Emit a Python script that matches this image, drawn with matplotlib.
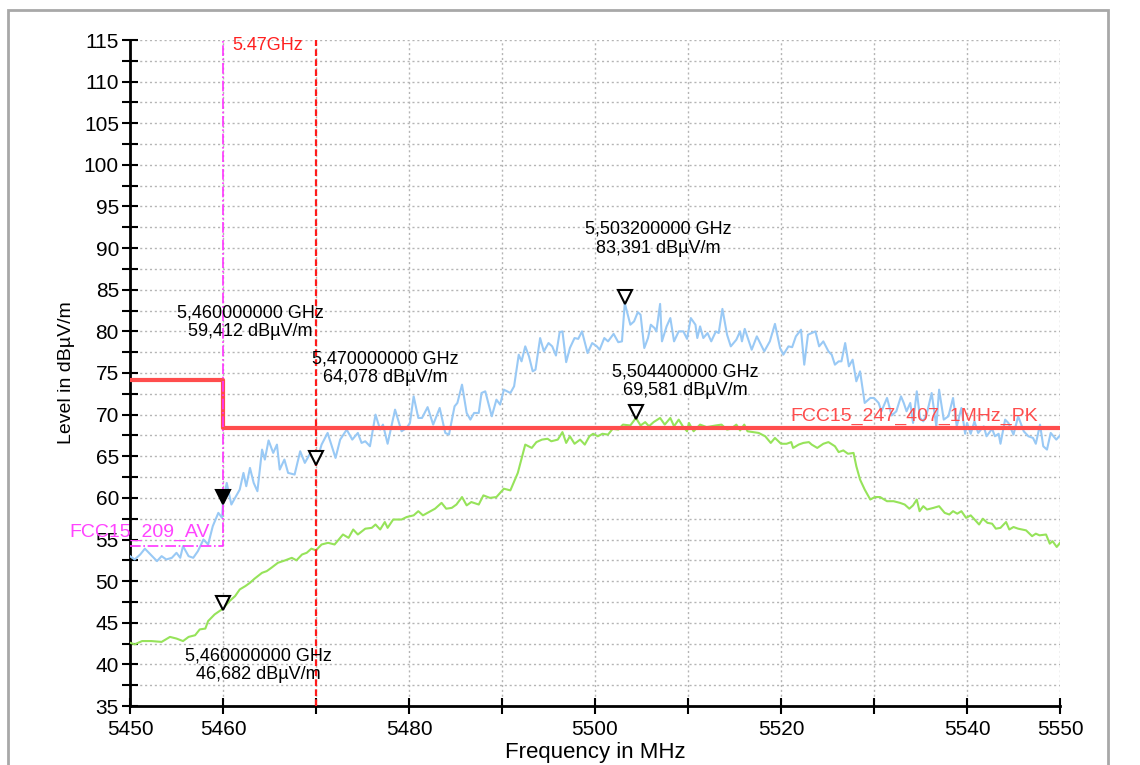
#Recreation of a radiated band-edge scan (peak + average traces with FCC limits)
import numpy as np
import matplotlib
matplotlib.use('Agg')
import matplotlib.pyplot as plt
import matplotlib.transforms as mtransforms
from matplotlib.patches import Rectangle

plt.rcParams['font.family'] = ['Liberation Sans', 'DejaVu Sans']

#Peak trace (light blue)
pk_freq = [5450.0, 5450.5, 5451.1, 5451.6, 5452.2, 5452.9, 5453.4, 5453.9, 5454.5, 5455.0,
           5455.4, 5455.7, 5456.3, 5456.8, 5457.3, 5457.9, 5458.4, 5458.9, 5459.5, 5459.9,
           5460.0, 5460.4, 5460.9, 5461.5, 5461.8, 5462.2, 5462.5, 5462.9, 5463.3, 5463.7,
           5464.2, 5464.5, 5464.9, 5465.4, 5465.8, 5466.1, 5466.6, 5467.0, 5467.7, 5468.3,
           5468.8, 5469.4, 5470.0, 5470.6, 5471.25, 5471.7, 5472.1, 5472.6, 5473.3, 5473.9,
           5474.5, 5474.9, 5475.3, 5475.8, 5476.4, 5476.9, 5477.2, 5477.7, 5478.5, 5479.2,
           5479.75, 5480.1, 5480.5, 5481.0, 5481.4, 5482.0, 5482.6, 5483.3, 5483.9, 5484.3,
           5484.9, 5485.2, 5485.7, 5486.2, 5486.6, 5487.0, 5487.5, 5487.8, 5488.2, 5488.9,
           5489.4, 5489.8, 5490.2, 5490.9, 5491.3, 5491.8, 5492.1, 5492.5, 5492.9, 5493.3,
           5493.6, 5494.1, 5494.5, 5495.0, 5495.4, 5495.8, 5496.2, 5496.5, 5496.9, 5497.3,
           5497.8, 5498.2, 5498.6, 5499.2, 5499.7, 5500.2, 5500.5, 5501.0, 5501.4, 5502.0,
           5502.5, 5502.9, 5503.2, 5503.8, 5504.2, 5504.6, 5504.9, 5505.3, 5505.7, 5506.0,
           5506.4, 5506.6, 5507.0, 5507.2, 5507.7, 5508.1, 5508.5, 5509.0, 5509.5, 5509.9,
           5510.3, 5510.8, 5511.0, 5511.3, 5511.65, 5512.1, 5512.5, 5513.0, 5513.3, 5513.7,
           5514.2, 5514.6, 5515.2, 5515.6, 5515.8, 5516.1, 5516.85, 5517.4, 5518.2, 5518.8,
           5519.35, 5519.9, 5520.25, 5520.8, 5521.2, 5521.6, 5522.15, 5522.5, 5522.9, 5523.3,
           5523.7, 5524.1, 5524.55, 5525.1, 5525.45, 5525.8, 5526.2, 5526.5, 5526.9, 5527.3,
           5527.7, 5528.1, 5528.5, 5529.0, 5529.6, 5530.0, 5530.5, 5530.8, 5531.4, 5531.9,
           5532.4, 5532.9, 5533.2, 5533.5, 5533.9, 5534.2, 5534.6, 5534.95, 5535.3, 5535.7,
           5536.2, 5536.7, 5537.0, 5537.5, 5538.0, 5538.5, 5538.9, 5539.4, 5539.8, 5540.0,
           5540.4, 5540.8, 5541.2, 5541.8, 5542.1, 5542.7, 5543.0, 5543.4, 5543.6, 5544.1,
           5544.45, 5545.0, 5545.5, 5546.1, 5546.6, 5547.1, 5547.4, 5547.85, 5548.2, 5548.6,
           5549.0, 5549.6, 5550.0]
pk_level = [53.0, 52.6, 53.2, 53.9, 53.2, 52.4, 53.0, 52.6, 52.8, 53.4,
            52.8, 54.2, 53.0, 52.8, 53.6, 55.0, 54.4, 56.6, 58.2, 57.6,
            59.4, 61.8, 59.2, 60.4, 61.0, 63.0, 61.4, 63.6, 61.8, 60.8,
            65.8, 64.6, 66.9, 65.4, 66.4, 63.4, 64.6, 63.0, 62.8, 65.6,
            64.2, 65.4, 64.1, 66.4, 67.8, 66.2, 64.8, 67.0, 68.2, 67.0,
            67.8, 66.6, 66.8, 66.2, 70.0, 68.2, 68.8, 66.5, 70.6, 68.0,
            68.4, 69.0, 72.2, 69.6, 69.6, 70.9, 68.8, 70.8, 67.8, 67.6,
            71.0, 71.4, 73.6, 70.2, 69.4, 70.2, 70.2, 72.6, 72.8, 69.8,
            71.8, 71.2, 73.0, 72.6, 73.4, 77.2, 76.4, 78.2, 77.0, 75.2,
            75.4, 79.2, 77.6, 78.6, 78.2, 77.1, 79.9, 80.0, 76.3, 78.0,
            79.2, 79.1, 80.0, 77.4, 78.6, 78.2, 77.8, 79.2, 78.8, 79.7,
            78.7, 78.8, 83.4, 80.8, 81.2, 82.3, 82.0, 78.0, 79.2, 80.8,
            80.4, 80.0, 83.3, 78.8, 80.6, 81.6, 78.8, 80.0, 80.0, 79.1,
            81.6, 80.8, 79.2, 80.6, 79.2, 79.8, 78.8, 80.0, 79.8, 82.7,
            79.6, 78.2, 79.0, 80.0, 78.8, 80.3, 77.8, 79.4, 77.6, 78.8,
            80.9, 78.0, 77.2, 78.2, 78.1, 79.4, 80.2, 76.0, 79.6, 79.8,
            80.0, 78.2, 78.8, 77.6, 77.2, 76.0, 76.4, 76.4, 78.6, 75.8,
            76.6, 74.0, 75.2, 71.4, 72.0, 72.0, 71.4, 70.4, 72.0, 69.9,
            70.4, 72.2, 71.4, 70.4, 71.4, 69.0, 72.8, 69.6, 69.2, 70.2,
            72.6, 68.6, 73.0, 69.4, 69.8, 72.0, 68.6, 70.8, 67.7, 69.0,
            67.7, 69.2, 67.8, 68.6, 67.4, 68.3, 67.4, 67.7, 66.5, 69.4,
            69.0, 67.6, 69.8, 68.0, 67.4, 67.2, 66.5, 68.8, 66.2, 65.8,
            67.8, 67.0, 67.5]

#Average trace (green)
av_freq = [5450.0, 5450.5, 5451.3, 5452.3, 5453.4, 5454.3, 5455.0, 5455.7, 5456.3, 5457.0,
           5457.5, 5458.1, 5458.4, 5459.1, 5460.0, 5460.7, 5461.3, 5461.8, 5462.4, 5462.9,
           5463.4, 5464.2, 5464.7, 5465.2, 5465.9, 5466.7, 5467.4, 5467.9, 5468.5, 5469.0,
           5469.5, 5470.0, 5470.6, 5471.3, 5472.0, 5472.9, 5473.5, 5474.0, 5474.5, 5475.3,
           5476.0, 5476.4, 5476.9, 5477.4, 5477.7, 5478.3, 5479.2, 5479.75, 5480.5, 5481.0,
           5481.5, 5482.3, 5482.8, 5483.5, 5484.0, 5484.6, 5485.1, 5485.7, 5486.2, 5486.7,
           5487.5, 5488.0, 5488.7, 5489.4, 5490.2, 5490.9, 5491.7, 5492.5, 5493.2, 5493.7,
           5494.3, 5494.9, 5495.3, 5496.0, 5496.5, 5496.9, 5497.3, 5497.8, 5498.4, 5498.9,
           5499.4, 5499.8, 5500.3, 5500.8, 5501.4, 5501.9, 5502.5, 5503.0, 5503.8, 5504.4,
           5504.9, 5505.4, 5505.8, 5506.3, 5507.0, 5507.5, 5508.1, 5508.5, 5509.0, 5509.5,
           5509.9, 5510.1, 5510.6, 5511.3, 5512.0, 5512.5, 5513.0, 5513.6, 5514.2, 5514.6,
           5515.2, 5515.6, 5516.05, 5516.4, 5517.0, 5517.6, 5518.3, 5518.9, 5519.35, 5520.0,
           5520.6, 5521.1, 5521.3, 5521.9, 5522.4, 5523.0, 5523.3, 5523.9, 5524.55, 5525.1,
           5525.8, 5526.2, 5526.7, 5527.2, 5527.8, 5528.1, 5528.5, 5529.0, 5529.6, 5530.1,
           5530.65, 5531.4, 5532.1, 5532.8, 5533.3, 5533.8, 5534.2, 5534.6, 5534.9, 5535.3,
           5535.7, 5536.4, 5537.0, 5537.6, 5538.1, 5538.5, 5538.95, 5539.4, 5539.9, 5540.4,
           5540.9, 5541.3, 5541.7, 5542.2, 5542.7, 5543.1, 5543.6, 5544.2, 5544.55, 5545.0,
           5545.5, 5546.35, 5547.0, 5547.4, 5547.8, 5548.5, 5548.9, 5549.2, 5549.65, 5550.0]
av_level = [42.6, 42.4, 42.8, 42.8, 42.7, 43.3, 43.1, 42.8, 43.3, 43.5,
            44.2, 44.3, 45.2, 46.0, 46.7, 47.6, 48.2, 49.0, 49.4, 49.8,
            50.3, 51.0, 51.2, 51.6, 52.2, 52.5, 52.8, 52.5, 53.2, 53.4,
            53.9, 53.7, 54.4, 54.6, 54.4, 55.6, 55.2, 56.2, 55.6, 56.3,
            56.4, 56.8, 56.2, 57.1, 56.4, 57.4, 57.4, 57.7, 57.9, 58.4,
            57.9, 58.4, 58.7, 59.4, 58.7, 58.8, 59.2, 60.1, 59.1, 59.5,
            59.2, 60.3, 60.0, 60.1, 61.1, 60.9, 63.0, 66.4, 66.0, 66.7,
            67.0, 67.1, 66.8, 67.0, 67.9, 66.6, 67.4, 66.5, 67.0, 66.4,
            67.4, 67.7, 67.4, 67.7, 67.6, 68.3, 68.2, 68.8, 68.7, 69.6,
            68.7, 69.1, 68.6, 69.1, 69.6, 68.8, 69.6, 68.6, 69.4, 68.5,
            68.0, 69.0, 68.0, 68.8, 68.5, 68.6, 68.7, 68.8, 68.2, 68.3,
            68.8, 68.1, 68.8, 68.0, 67.9, 67.8, 67.4, 66.6, 67.2, 66.5,
            66.5, 66.7, 66.0, 66.4, 66.6, 66.7, 66.4, 66.0, 66.5, 66.7,
            66.2, 65.5, 65.7, 65.3, 65.4, 63.8, 62.2, 61.0, 59.8, 60.1,
            60.1, 59.6, 59.6, 59.4, 59.2, 58.7, 59.1, 59.8, 58.4, 59.0,
            58.6, 58.8, 59.0, 58.2, 58.0, 58.4, 58.1, 58.4, 57.6, 57.9,
            57.3, 56.8, 57.5, 57.0, 56.9, 56.3, 56.4, 57.1, 56.2, 56.5,
            56.3, 56.1, 55.4, 55.7, 55.5, 55.6, 54.5, 54.8, 54.1, 54.6]

#Limit lines
pk_limit_freq = [5450, 5460, 5460, 5550]
pk_limit_level = [74.2, 74.2, 68.4, 68.4]
av_limit_freq = [5450, 5460, 5460]
av_limit_level = [54.2, 54.2, 115]
band_edge = 5470

#Markers
mk_freq = [5460.0, 5470.0, 5503.2, 5504.4, 5460.0]
mk_level = [59.412, 64.078, 83.391, 69.581, 46.682]
mk_active = [True, False, False, False, False]
#Where each marker read-out is written (centre of the two lines)
mk_text_x = [5462.9, 5477.4, 5506.8, 5509.7, 5463.8]
mk_text_y = [81.1, 75.6, 91.1, 74.0, 39.9]

fig = plt.figure(figsize=(11.4, 7.65), dpi=100)
ax = fig.add_axes([130 / 1140, 1 - 706 / 765, 930 / 1140, 666 / 765])

#Grey frame round the whole window
fig.patches.append(Rectangle((8 / 1140, -0.02), 1100 / 1140, 1.02 - 10 / 765, transform=fig.transFigure,
                             fill=False, edgecolor='#a8a8a8', linewidth=2))

ax.plot(pk_freq, pk_level, color='#99c9f5', linewidth=1.5, zorder=3)
ax.plot(av_freq, av_level, color='#96e35a', linewidth=1.5, zorder=3)
ax.plot(pk_limit_freq, pk_limit_level, color='#ff4d4d', linewidth=3, zorder=4)
ax.plot(av_limit_freq, av_limit_level, color='#ff33ff', linewidth=1.2, linestyle='-.', zorder=4)
ax.axvline(band_edge, color='#ff1a1a', linewidth=1.6, linestyle=(0, (3, 1.5)), zorder=4)

#Marker triangles sit just above the point
mk_trans = mtransforms.offset_copy(ax.transData, fig=fig, x=0, y=6, units='dots')
for f, lv, act in zip(mk_freq, mk_level, mk_active):
    ax.plot(f, lv, marker='v', markersize=10, markeredgewidth=1.5, markeredgecolor='black',
            markerfacecolor='black' if act else 'white', transform=mk_trans, zorder=6, clip_on=False)

for f, lv, tx, ty in zip(mk_freq, mk_level, mk_text_x, mk_text_y):
    txt = ('%.9f GHz' % (f / 1000)).replace('.', ',') + '\n' + ('%.3f dBµV/m' % lv).replace('.', ',')
    ax.text(tx, ty, txt, ha='center', va='center', fontsize=13, linespacing=1.15, zorder=7)

ax.text(5461.0, 114.3, '5.47GHz', color='#ff2020', fontsize=13, va='center', ha='left')
ax.text(5521.0, 69.8, 'FCC15_247_407_1MHz_PK', color='#ff4d4d', fontsize=14, va='center',
        ha='left', clip_on=False)
ax.text(5443.5, 55.8, 'FCC15_209_AV', color='#ff44ff', fontsize=14, va='center',
        ha='left', clip_on=False)

#Axes, ticks and grid
ax.set_xlim(5450, 5550)
ax.set_ylim(35, 115)
xt = list(range(5450, 5551, 10))
ax.set_xticks(xt)
ax.set_xticklabels([str(v) if v in (5450, 5460, 5480, 5500, 5520, 5540, 5550) else '' for v in xt])
ax.set_yticks(np.arange(35, 116, 5))
ax.set_yticks(np.arange(37.5, 115, 5), minor=True)
ax.tick_params(which='both', direction='inout', length=12, width=1.5, labelsize=15, pad=2)
ax.tick_params(axis='x', pad=4)
ax.grid(which='both', linestyle=(0, (1.5, 2)), color='#b5b5b5', linewidth=1)
ax.set_axisbelow(True)
for s in ['top', 'right']:
    ax.spines[s].set_visible(False)
for s in ['left', 'bottom']:
    ax.spines[s].set_linewidth(2)

ax.set_ylabel('Level in dBµV/m', fontsize=14, labelpad=6)
ax.set_xlabel('Frequency in MHz', fontsize=16, labelpad=2)

plt.savefig('out.png', dpi=100)
